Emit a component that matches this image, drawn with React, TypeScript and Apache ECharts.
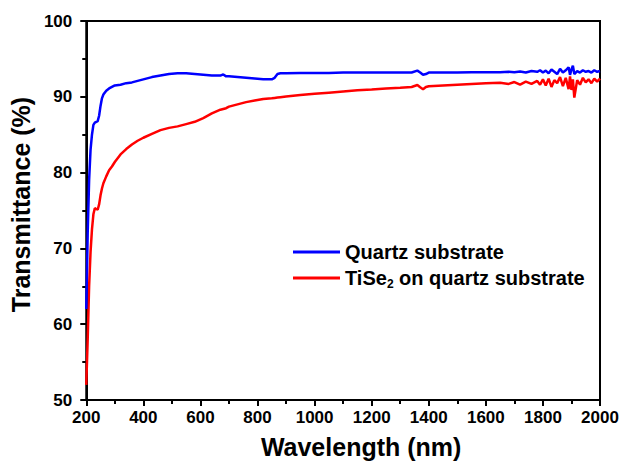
import React, { useEffect, useRef } from "react";
import * as echarts from "echarts";

const wavelengths = [
  200, 205, 210, 215, 220, 225, 230, 235, 240, 245, 250, 255, 260,
  270, 280, 290, 300, 320, 340, 360, 380, 400,
  430, 460, 490, 520, 550, 580, 610, 640, 670, 680, 690, 700,
  730, 760, 790, 820, 850, 860, 870, 880, 900,
  950, 1000, 1050, 1100, 1150, 1200, 1250, 1300, 1340,
  1360, 1370, 1380, 1390, 1400,
  1450, 1500, 1550, 1600, 1650, 1680, 1700, 1720, 1740, 1760,
  1780, 1790, 1800, 1810, 1820, 1830, 1840, 1850, 1860, 1870, 1880, 1890, 1895,
  1900, 1905, 1910, 1920, 1930, 1940, 1950, 1960, 1970, 1980, 1990, 2000,
];

const quartz = [
  62, 72, 79, 83, 85, 86.3, 86.6, 86.7, 86.8, 87.5, 88.8, 89.8, 90.3,
  90.8, 91.1, 91.3, 91.5, 91.6, 91.8, 91.9, 92.1, 92.3,
  92.6, 92.8, 93.0, 93.1, 93.1, 93.0, 92.9, 92.8, 92.8, 92.95, 92.7, 92.7,
  92.6, 92.5, 92.4, 92.3, 92.3, 92.5, 93.0, 93.1, 93.1,
  93.15, 93.15, 93.15, 93.2, 93.2, 93.2, 93.2, 93.2, 93.2,
  93.45, 93.2, 92.9, 93.0, 93.2,
  93.2, 93.2, 93.25, 93.25, 93.25, 93.3, 93.25, 93.35, 93.2, 93.4,
  93.3, 93.5, 93.2, 93.45, 93.1, 93.6, 93.3, 93.0, 93.7, 93.2, 93.5, 93.9, 92.9,
  93.6, 94.1, 93.0, 93.4, 93.2, 93.5, 93.3, 93.4, 93.2, 93.5, 93.3, 93.4,
];

const tise2 = [
  52, 58, 65, 69.5, 72.5, 74.5, 75.3, 75.2, 75.1, 75.8, 77, 77.9, 78.6,
  79.5, 80.3, 80.8, 81.4, 82.4, 83.1, 83.7, 84.2, 84.6,
  85.1, 85.6, 85.9, 86.1, 86.4, 86.7, 87.2, 87.8, 88.3, 88.4, 88.5, 88.7,
  89.0, 89.3, 89.5, 89.7, 89.8, 89.85, 89.9, 89.95, 90.05,
  90.25, 90.4, 90.55, 90.7, 90.85, 90.95, 91.1, 91.2, 91.3,
  91.55, 91.25, 91.0, 91.3, 91.4,
  91.5, 91.6, 91.7, 91.8, 91.85, 91.7, 91.95, 91.6, 92.0, 91.7,
  92.1, 91.6, 92.3, 91.5, 92.4, 91.3, 92.2, 91.8, 92.6, 91.4, 92.5, 91.0, 92.7,
  90.9, 92.3, 89.9, 92.2, 91.6, 92.5, 91.9, 92.3, 91.8, 92.4, 92.0, 92.4,
];

const seriesNames = ["Quartz substrate", "TiSe2 on quartz substrate"];
const xTitle = "Wavelength (nm)";
const yTitle = "Transmittance (%)";

const FONT = "'Liberation Sans', Arial, sans-serif";

export default function App() {
  const ref = useRef<HTMLDivElement>(null);
  useEffect(() => {
    if (!ref.current) return;
    const chart = echarts.init(ref.current, undefined, { renderer: "svg" });
    const labelStyle = { color: "#000", fontSize: 17, fontWeight: "bold", fontFamily: FONT };
    const nameStyle = { color: "#000", fontSize: 25, fontWeight: "bold", fontFamily: FONT };
    chart.setOption({
      animation: false,
      backgroundColor: "#ffffff",
      grid: {
        left: 84,
        right: 23,
        top: 21,
        bottom: 69,
        show: true,
        borderColor: "#000000",
        borderWidth: 2,
      },
      legend: {
        orient: "vertical",
        left: 293,
        top: 242,
        padding: 0,
        itemWidth: 47,
        itemHeight: 3,
        itemGap: 6,
        icon: "rect",
        data: seriesNames,
        formatter: (name: string) =>
          name.startsWith("TiSe2")
            ? "{a|TiSe}{s|2}{a| on quartz substrate}"
            : "{a|" + name + "}",
        textStyle: {
          color: "#000",
          fontSize: 20,
          fontWeight: "bold",
          fontFamily: FONT,
          rich: {
            a: { color: "#000", fontSize: 20, fontWeight: "bold", fontFamily: FONT },
            s: { color: "#000", fontSize: 12, fontWeight: "bold", fontFamily: FONT, verticalAlign: "bottom", padding: [12, 0, 0, 0] },
          },
        },
      },
      xAxis: {
        type: "value",
        min: 200,
        max: 2000,
        interval: 200,
        name: xTitle,
        nameLocation: "middle",
        nameGap: 34,
        axisLine: { show: true, onZero: false, lineStyle: { color: "#000000", width: 2 } },
        axisTick: { show: true, length: 6, lineStyle: { color: "#000000", width: 2 } },
        minorTick: { show: true, splitNumber: 2, length: 4, lineStyle: { color: "#000000", width: 2 } },
        splitLine: { show: false },
        axisLabel: { ...labelStyle, margin: 9, formatter: (v: number) => String(v) },
        nameTextStyle: { ...nameStyle, padding: [0, 0, 0, 36] },
      },
      yAxis: {
        type: "value",
        min: 50,
        max: 100,
        interval: 10,
        name: yTitle,
        nameLocation: "middle",
        nameGap: 48,
        axisLine: { show: true, onZero: false, lineStyle: { color: "#000000", width: 2 } },
        axisTick: { show: true, length: 6, lineStyle: { color: "#000000", width: 2 } },
        minorTick: { show: true, splitNumber: 2, length: 4, lineStyle: { color: "#000000", width: 2 } },
        splitLine: { show: false },
        axisLabel: { ...labelStyle, margin: 14, formatter: (v: number) => String(v) },
        nameTextStyle: { ...nameStyle, padding: [0, 0, 0, 12] },
      },
      series: [
        {
          name: seriesNames[1],
          type: "line",
          showSymbol: false,
          color: "#ff0000",
          lineStyle: { color: "#ff0000", width: 2.5 },
          data: wavelengths.map((w, i) => [w, tise2[i]]),
        },
        {
          name: seriesNames[0],
          type: "line",
          showSymbol: false,
          color: "#0000ff",
          lineStyle: { color: "#0000ff", width: 2.5 },
          data: wavelengths.map((w, i) => [w, quartz[i]]),
        },
      ],
    });
    return () => chart.dispose();
  }, []);
  return <div ref={ref} style={{ width: 623, height: 469, position: "absolute", left: 0, top: 0 }} />;
}
